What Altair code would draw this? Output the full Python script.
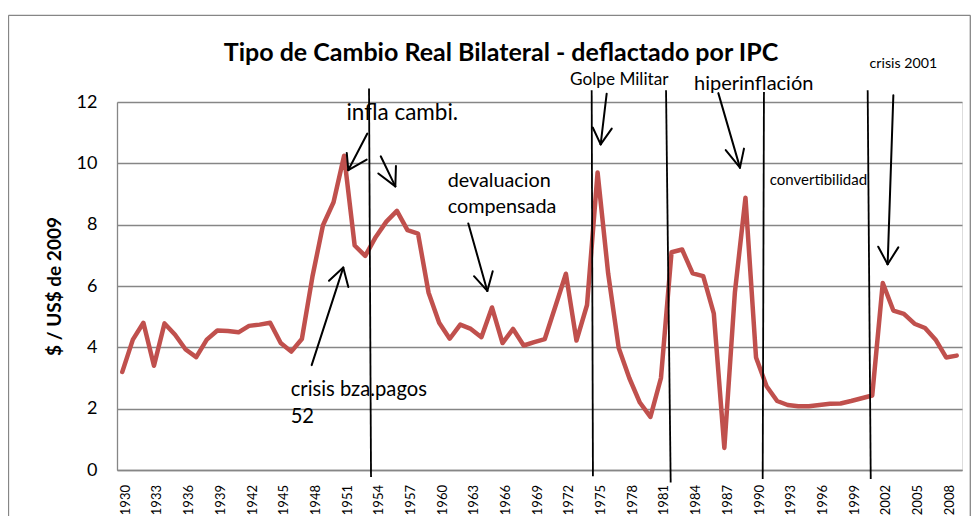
import altair as alt
import pandas as pd

# ---------------- data ----------------
years = list(range(1930, 2010))
rer = [3.2, 4.25, 4.8, 3.4, 4.78, 4.41, 3.93, 3.68, 4.25, 4.55,
       4.53, 4.49, 4.7, 4.74, 4.8, 4.14, 3.86, 4.27, 6.3, 7.98,
       8.73, 10.25, 7.32, 6.98, 7.6, 8.1, 8.45, 7.82, 7.71, 5.78,
       4.8, 4.28, 4.74, 4.6, 4.33, 5.3, 4.14, 4.6, 4.06, 4.17,
       4.27, 5.33, 6.4, 4.22, 5.38, 9.7, 6.41, 3.98, 3.0, 2.2,
       1.73, 3.0, 7.1, 7.19, 6.41, 6.32, 5.11, 0.72, 5.8, 8.88,
       3.67, 2.73, 2.25, 2.12, 2.08, 2.08, 2.12, 2.16, 2.17, 2.25,
       2.34, 2.43, 6.1, 5.2, 5.09, 4.77, 4.63, 4.25, 3.67, 3.73]

y_ticks = [0, 2, 4, 6, 8, 10, 12]
x_ticks = list(range(1930, 2009, 3))
x_tick_labels = [str(y) for y in x_ticks]

title_text = "Tipo de Cambio Real Bilateral - deflactado por IPC"
y_title = "$ / US$ de 2009"

# vertical event lines (in year / value units, drawn past the plot edges)
vline_x_top = [1953.36, 1974.44, 1981.48, 1990.75, 2000.57]
vline_x_bot = [1953.55, 1974.56, 1981.92, 1990.63, 2000.86]
vline_y_top = [12.44, 12.38, 12.38, 12.33, 12.38]
vline_y_bot = [-0.23, -0.2, -0.41, -0.29, -0.29]

# arrows: start point, tip, two head ends (year, value)
arrow_start = [(1953.20, 10.97), (1954.47, 10.23), (1947.93, 3.42), (1962.76, 8.04),
               (1975.86, 12.27), (1986.43, 12.29), (2003.00, 12.22)]
arrow_tip = [(1951.40, 9.78), (1955.85, 9.25), (1950.92, 6.60), (1964.56, 5.84),
             (1975.29, 10.62), (1988.48, 9.86), (2002.46, 6.71)]
arrow_head_a = [(1951.25, 10.34), (1955.91, 9.91), (1949.57, 6.17), (1963.30, 6.32),
                (1974.54, 11.17), (1987.13, 10.43), (2001.57, 7.28)]
arrow_head_b = [(1953.14, 10.12), (1954.24, 9.67), (1951.40, 5.97), (1965.07, 6.48),
                (1976.34, 11.13), (1988.86, 10.48), (2003.47, 7.26)]

# annotation texts (label, year, value, font size)
note_label = ["infla cambi.", "devaluacion", "compensada", "crisis bza.pagos", "52",
              "Golpe Militar", "hiperinflación", "crisis 2001", "convertibilidad"]
note_x = [1951.22, 1960.81, 1960.81, 1945.94, 1945.94, 1972.39, 1984.13, 2000.75, 1991.3]
note_y = [11.63, 9.43, 8.58, 2.61, 1.74, 12.73, 12.58, 13.25, 9.47]
note_size = [22.5, 19.8, 19.8, 20.2, 20.2, 17.2, 20, 14.2, 15]

FONT = "Lato"
GRAY = "#868686"
RED = "#C0504D"

# ---------------- tables ----------------
df = pd.DataFrame({"year": years, "value": rer})

vl = pd.DataFrame({"year": vline_x_top, "year2": vline_x_bot,
                   "value": vline_y_top, "value2": vline_y_bot})

segs = []
for s, t, a, b in zip(arrow_start, arrow_tip, arrow_head_a, arrow_head_b):
    segs.append({"year": s[0], "value": s[1], "year2": t[0], "value2": t[1]})
    segs.append({"year": t[0], "value": t[1], "year2": a[0], "value2": a[1]})
    segs.append({"year": t[0], "value": t[1], "year2": b[0], "value2": b[1]})
arrows = pd.DataFrame(segs)

notes = pd.DataFrame({"label": note_label, "year": note_x, "value": note_y, "size": note_size})
xlab = pd.DataFrame({"year": x_ticks, "label": x_tick_labels})

# ---------------- layers ----------------
x_enc = alt.X("year:Q",
              scale=alt.Scale(domain=[1929.5, 2009.5], nice=False, zero=False),
              axis=alt.Axis(values=x_ticks, labels=False, grid=False, ticks=False),
              title=None)
y_enc = alt.Y("value:Q",
              scale=alt.Scale(domain=[0, 12], nice=False),
              axis=alt.Axis(values=y_ticks, grid=True, ticks=False,
                            titleX=-63, titleY=184, titleAngle=270,
                            titleAlign="center", titleBaseline="middle"),
              title=y_title)

line = alt.Chart(df).mark_line(color=RED, strokeWidth=4.5, strokeJoin="round",
                               strokeCap="round").encode(x=x_enc, y=y_enc)

xlabels = alt.Chart(xlab).mark_text(angle=270, align="right", baseline="middle",
                                    font=FONT, fontSize=13, color="#000000",
                                    dy=3.5).encode(
    x="year:Q", y=alt.value(383), text="label:N")

vlines = alt.Chart(vl).mark_rule(color="#000000", strokeWidth=1.8).encode(
    x="year:Q", x2="year2", y="value:Q", y2="value2")

arrow_layer = alt.Chart(arrows).mark_rule(color="#000000", strokeWidth=2,
                                          strokeCap="round").encode(
    x="year:Q", x2="year2", y="value:Q", y2="value2")

note_layer = alt.Chart(notes).mark_text(align="left", baseline="middle", font=FONT,
                                        color="#000000").encode(
    x="year:Q", y="value:Q", text="label:N",
    size=alt.Size("size:Q", scale=None, legend=None))

one = pd.DataFrame({"t": [title_text]})
title_layer = alt.Chart(one).mark_text(align="center", baseline="middle", font=FONT,
                                       fontSize=25, fontWeight="bold",
                                       color="#000000").encode(
    x=alt.value(384), y=alt.value(-48.7), text="t:N")

frame_top = alt.Chart(one).mark_rule(color=GRAY, strokeWidth=1.3).encode(
    x=alt.value(-108.5), x2=alt.value(853.3), y=alt.value(-86.7), y2=alt.value(-86.7))
frame_left = alt.Chart(one).mark_rule(color=GRAY, strokeWidth=1.3).encode(
    x=alt.value(-108.5), x2=alt.value(-108.5), y=alt.value(-86.7), y2=alt.value(420))
frame_right = alt.Chart(one).mark_rule(color=GRAY, strokeWidth=1.3).encode(
    x=alt.value(853.3), x2=alt.value(853.3), y=alt.value(-86.7), y2=alt.value(420))

chart = alt.layer(line, xlabels, vlines, arrow_layer, note_layer, title_layer,
                  frame_top, frame_left, frame_right).properties(
    width=845, height=368,
    padding={"left": 109, "top": 94, "right": 9, "bottom": 46},
    autosize=alt.AutoSizeParams(type="none"),
    background="white",
).configure_view(stroke=None).configure(font=FONT).configure_axis(
    domainColor=GRAY, domainWidth=1.3, gridColor=GRAY, gridWidth=1.3,
    labelColor="#000000", labelFont=FONT, titleFont=FONT, titleColor="#000000",
).configure_axisY(
    labelFontSize=18, labelPadding=20, titleFontSize=19, titleFontWeight="bold",
)

chart.save("out.html", embed_options={"renderer": "svg", "actions": False})
